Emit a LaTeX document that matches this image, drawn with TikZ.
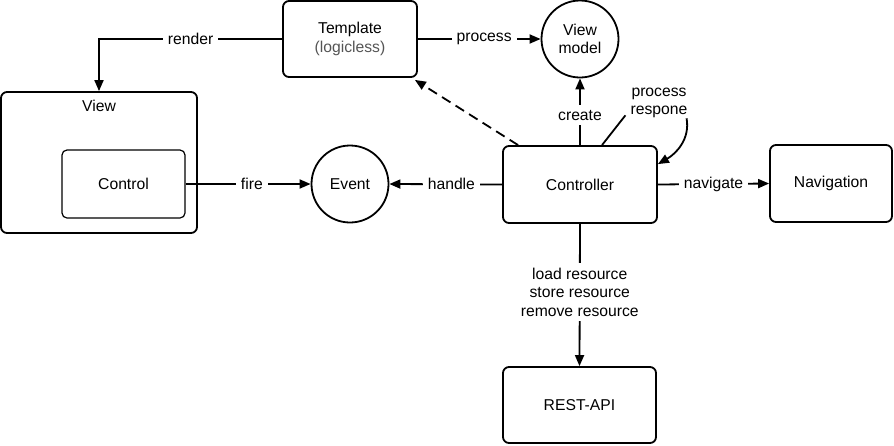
\documentclass[tikz,border=0pt]{standalone}
\usepackage{fontspec}
\setmainfont{Liberation Sans}
\usetikzlibrary{arrows.meta}
\definecolor{lg}{HTML}{555555}
\begin{document}
\begin{tikzpicture}[x=1pt,y=-1pt,
  every node/.style={font=\fontsize{15.7}{18.5}\selectfont},
  box/.style={draw, line width=1.8pt, rounded corners=6pt, align=center, inner sep=0pt},
  circ/.style={draw, circle, line width=1.8pt, align=center, inner sep=0pt, minimum size=77pt},
  conn/.style={line width=1.8pt, -{Triangle[length=11pt,width=9pt]}},
  plain/.style={line width=1.8pt},
  lbl/.style={fill=white, inner sep=5pt, align=center}
]
\useasboundingbox (0,0) rectangle (894,445);
% nodes
\node[box, minimum width=134pt, minimum height=76pt] (tpl) at (350,39) {Template\\\textcolor{lg}{(logicless)}};
\node[circ] (vm) at (580,39) {View\\model};
\node[box, minimum width=196pt, minimum height=141pt] (view) at (99,162.5) {};
\node[inner sep=0pt] (viewlbl) at (99,106) {View};
\node[box, line width=1.2pt, rounded corners=5pt, minimum width=123pt, minimum height=68pt] (ctl) at (123.5,184) {Control};
\node[circ] (ev) at (350,184) {Event};
\node[box, minimum width=154pt, minimum height=77pt] (ctrl) at (580,184.5) {Controller};
\node[box, minimum width=122pt, minimum height=77pt] (nav) at (831,183.5) {Navigation};
\node[box, minimum width=153pt, minimum height=76pt] (rest) at (579.5,405) {REST-API};
\node[align=center, inner sep=3pt] (pr) at (659,103) {process\\respone};
% connectors
\draw[conn] (tpl.west) -| node[lbl, pos=0.25] {render} (view.north);
\draw[conn] (tpl.east) -- node[lbl, pos=0.54] {process} (vm.west);
\draw[conn] (ctrl.north) -- node[lbl, pos=0.45] {create} (vm.south);
\draw[conn] (ctl.east) -- node[lbl, pos=0.53] {fire} (ev.west);
\draw[conn] (ctrl.west) -- node[lbl, pos=0.45] {handle} (ev.east);
\draw[conn] (ctrl.east) -- node[lbl] {navigate} (nav.west);
\draw[conn] (ctrl.south) -- node[lbl, pos=0.48] {load resource\\store resource\\remove resource} (rest.north);
\draw[conn, dash pattern=on 10pt off 6pt] ([xshift=16pt]ctrl.north west) -- ([xshift=-3pt,yshift=-2pt]tpl.south east);
\draw[plain] ([xshift=22pt]ctrl.north) -- ([xshift=-2pt,yshift=6pt]pr.south west);
\draw[conn] ([xshift=-4pt,yshift=3pt]pr.south east) to[out=-80,in=30] ([yshift=-19pt]ctrl.north east);
\end{tikzpicture}
\end{document}
